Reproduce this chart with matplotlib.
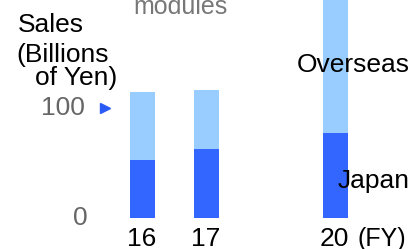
import matplotlib.pyplot as plt

plt.rcParams['font.family'] = ['Liberation Sans', 'DejaVu Sans']

# data (billions of yen)
years = ['16', '17', '20']
xpos = [0, 1, 3]
japan = [52.8, 62.7, 77.2]
total = [114.3, 116.1, 230.0]
overseas = [t - j for t, j in zip(total, japan)]

light = '#99ccff'
dark = '#3366ff'
fs = 19

fig = plt.figure(figsize=(4.08, 2.49), dpi=100)
ax = fig.add_axes([0, 0, 1, 1])
ax.axis('off')

ax.bar(xpos, japan, width=0.39, color=dark)
ax.bar(xpos, overseas, width=0.39, bottom=japan, color=light)

ax.set_xlim(-2.213, 4.123)
ax.set_ylim(-27.8, 197.6)

# y labels + marker
ax.text(-0.893, 100, '100', ha='right', va='center', fontsize=fs, color='#666666')
ax.text(-0.86, 0, '0', ha='right', va='center', fontsize=fs, color='#666666')
ax.plot([-0.58], [100], marker='>', color='#2a5cf5', markersize=7, linestyle='none')

# x labels
for x, lab in zip(xpos, years):
    ax.text(x - 0.02, -25.4, lab, ha='center', va='baseline', fontsize=fs, color='black')
ax.text(3.338, -25.4, '(FY)', ha='left', va='baseline', fontsize=18, color='black')

# unit label
fig.text(18 / 408, 1 - 32 / 249, 'Sales', ha='left', va='baseline', fontsize=fs)
fig.text(16 / 408, 1 - 62 / 249, '(Billions', ha='left', va='baseline', fontsize=fs)
fig.text(117 / 408, 1 - 85 / 249, 'of Yen)', ha='right', va='baseline', fontsize=fs)

# series labels
fig.text(297 / 408, 1 - 72 / 249, 'Overseas', ha='left', va='baseline', fontsize=fs)
fig.text(338 / 408, 1 - 187.5 / 249, 'Japan', ha='left', va='baseline', fontsize=fs)

# cut-off title
fig.text(133 / 408, 1 - 14 / 249, 'modules', ha='left', va='baseline', fontsize=18, color='#777777')

fig.savefig('out.png', dpi=100)
